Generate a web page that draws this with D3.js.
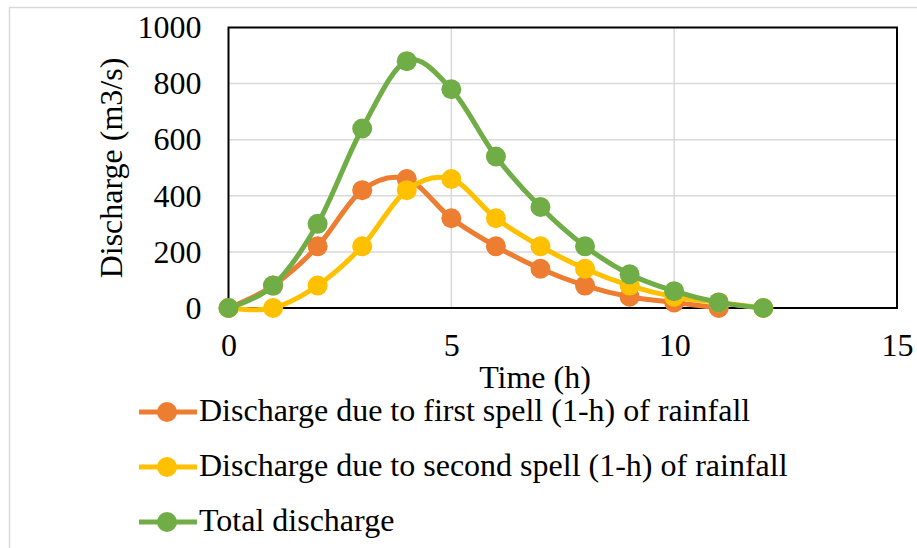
<!DOCTYPE html>
<html>
<head>
<meta charset="utf-8">
<script src="https://cdn.jsdelivr.net/npm/d3@7"></script>
<style>
  body { margin: 0; background: #fff; }
</style>
</head>
<body>
<svg id="chart" width="917" height="548"></svg>
<script>
// hours since start of rainfall
const time = [0, 1, 2, 3, 4, 5, 6, 7, 8, 9, 10, 11, 12];
const firstSpell  = [0, 80, 220, 420, 460, 320, 220, 140, 80, 40, 20, 0];
const secondSpell = [0, 0, 80, 220, 420, 460, 320, 220, 140, 80, 40, 20, 0];
const totalFlow   = [0, 80, 300, 640, 880, 780, 540, 360, 220, 120, 60, 20, 0];

const xTicks = [0, 5, 10, 15];
const yTicks = [0, 200, 400, 600, 800, 1000];

const series = [
  { name: "Discharge due to first spell (1-h) of rainfall",  values: firstSpell,  color: "#ED7D31" },
  { name: "Discharge due to second spell (1-h) of rainfall", values: secondSpell, color: "#FFC000" },
  { name: "Total discharge",                                  values: totalFlow,   color: "#70AD47" },
];

const SERIF = "Liberation Serif";
const FONT = 32;

const svg = d3.select("#chart")
  .attr("font-family", SERIF);
const plot = { left: 228.5, right: 897, top: 27.5, bottom: 308 };

// outer chart frame (runs off the right and bottom edge)
svg.append("rect")
  .attr("x", 9.5).attr("y", 7.5)
  .attr("width", 940).attr("height", 600)
  .attr("fill", "none")
  .attr("stroke", "#D9D9D9")
  .attr("stroke-width", 1.5);

const x = d3.scaleLinear().domain([0, 15]).range([plot.left, plot.right]);
const y = d3.scaleLinear().domain([0, 1000]).range([plot.bottom, plot.top]);

// gridlines
const grid = svg.append("g").attr("class", "grid");
grid.selectAll(".hgrid")
  .data(yTicks.slice(1, -1))
  .enter().append("line")
  .attr("x1", plot.left).attr("x2", plot.right)
  .attr("y1", d => y(d)).attr("y2", d => y(d))
  .attr("stroke", "#D9D9D9").attr("stroke-width", 1.5);
grid.selectAll(".vgrid")
  .data(xTicks.slice(1, -1))
  .enter().append("line")
  .attr("x1", d => x(d)).attr("x2", d => x(d))
  .attr("y1", plot.top).attr("y2", plot.bottom)
  .attr("stroke", "#D9D9D9").attr("stroke-width", 1.5);

// plot border
svg.append("rect")
  .attr("x", plot.left).attr("y", plot.top)
  .attr("width", plot.right - plot.left)
  .attr("height", plot.bottom - plot.top)
  .attr("fill", "none")
  .attr("stroke", "#000")
  .attr("stroke-width", 2);

// axes (labels only, frame drawn above)
const xAxis = svg.append("g")
  .attr("transform", `translate(0,${plot.bottom})`)
  .call(d3.axisBottom(x).tickValues(xTicks).tickFormat(d3.format("d")).tickSize(0).tickPadding(48));
const yAxis = svg.append("g")
  .attr("transform", `translate(${plot.left},0)`)
  .call(d3.axisLeft(y).tickValues(yTicks).tickFormat(d3.format("d")).tickSize(0).tickPadding(27));
[xAxis, yAxis].forEach(g => {
  g.attr("font-family", SERIF).attr("font-size", FONT);
  g.select(".domain").remove();
  g.selectAll("text").attr("fill", "#000");
});
xAxis.selectAll("text").attr("dy", "0");

// axis titles
svg.append("text")
  .attr("x", 535).attr("y", 388)
  .attr("text-anchor", "middle")
  .attr("font-size", FONT)
  .text("Time (h)");
svg.append("text")
  .attr("transform", "translate(122,168) rotate(-90)")
  .attr("text-anchor", "middle")
  .attr("font-size", FONT)
  .text("Discharge (m3/s)");

// series
const line = d3.line()
  .x((d, i) => x(time[i]))
  .y(d => y(d))
  .curve(d3.curveCardinal.tension(0));

series.forEach(s => {
  const g = svg.append("g");
  g.append("path")
    .attr("d", line(s.values))
    .attr("fill", "none")
    .attr("stroke", s.color)
    .attr("stroke-width", 5)
    .attr("stroke-linejoin", "round");
  g.selectAll("circle")
    .data(s.values)
    .enter().append("circle")
    .attr("cx", (d, i) => x(time[i]))
    .attr("cy", d => y(d))
    .attr("r", 10)
    .attr("fill", s.color);
});

// legend
const legend = svg.append("g");
const rowY = [412, 467, 522];
series.forEach((s, i) => {
  const row = legend.append("g").attr("transform", `translate(0,${rowY[i]})`);
  row.append("line")
    .attr("x1", 139).attr("x2", 197)
    .attr("stroke", s.color).attr("stroke-width", 5);
  row.append("circle")
    .attr("cx", 167).attr("r", 10)
    .attr("fill", s.color);
  row.append("text")
    .attr("x", 199).attr("y", 9)
    .attr("font-size", FONT)
    .text(s.name);
});
</script>
</body>
</html>
